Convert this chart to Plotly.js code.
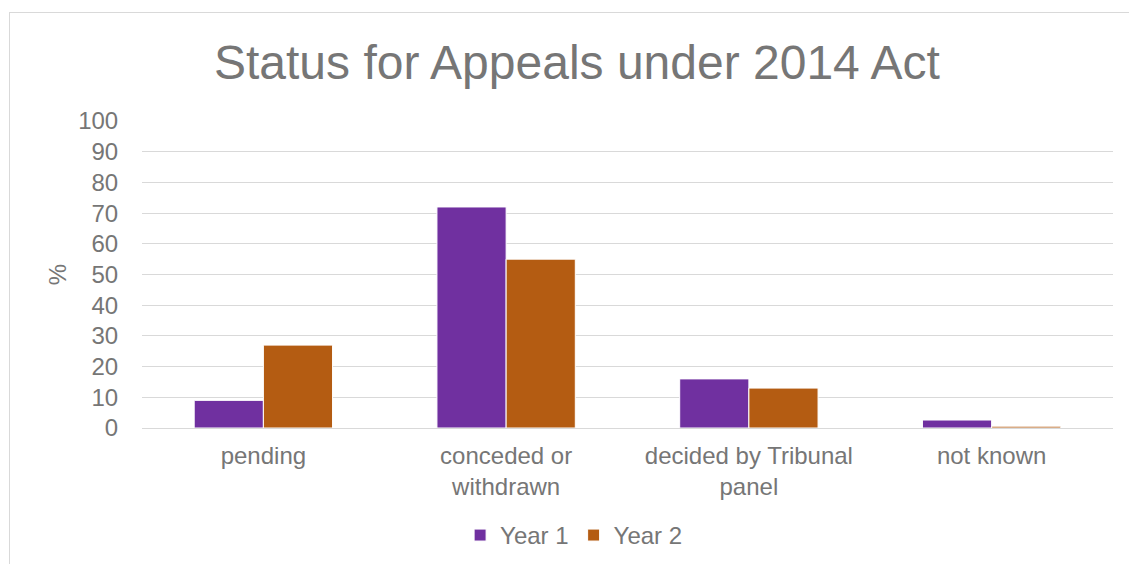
<!DOCTYPE html>
<html>
<head>
<meta charset="utf-8">
<script src="https://cdn.plot.ly/plotly-3.0.1.min.js"></script>
<style>
html,body{margin:0;padding:0;background:#fff;overflow:hidden;}
#chart{position:absolute;left:0;top:0;width:1129px;height:564px;}
#frame{position:absolute;left:9px;top:12px;width:1130px;height:560px;border:1px solid #d9d9d9;pointer-events:none;}
</style>
</head>
<body>
<div id="chart"></div>
<div id="frame"></div>
<script>
const categories = ["pending", "conceded or<br>withdrawn", "decided by Tribunal<br>panel", "not known"];
const year1 = [9, 72, 16, 2.6];
const year2 = [27, 55, 13, 0.6];
const seriesNames = ["Year 1", "Year 2"];
const yTicks = [0, 10, 20, 30, 40, 50, 60, 70, 80, 90, 100];

const font = "Liberation Sans, Arial, sans-serif";
const gray = "#767676";

const traces = [
  {type: "bar", x: categories, y: year1, name: seriesNames[0],
   marker: {color: "#7030A0", line: {color: "#ffffff", width: 1}}},
  {type: "bar", x: categories, y: year2, name: seriesNames[1],
   marker: {color: "#B45C12", line: {color: "#ffffff", width: 1}}}
];

const layout = {
  width: 1129, height: 564,
  margin: {l: 142, r: 16, t: 121, b: 136, autoexpand: false},
  paper_bgcolor: "#fff", plot_bgcolor: "#fff",
  font: {family: font, color: gray, size: 24},
  title: {text: "Status for Appeals under 2014 Act", font: {family: font, size: 48, color: gray},
          x: 0.511, xanchor: "center", y: 0.89, yanchor: "middle"},
  barmode: "group", bargap: 0.43, bargroupgap: 0,
  xaxis: {type: "category", showgrid: false, showline: false, zeroline: false, automargin: false,
          ticks: "outside", ticklen: 6, tickcolor: "rgba(0,0,0,0)",
          tickfont: {family: font, size: 24, color: gray}},
  yaxis: {range: [0, 100], tickvals: yTicks, ticktext: yTicks.map(String), automargin: false,
          showgrid: true, gridcolor: "#d9d9d9", gridwidth: 1,
          zeroline: true, zerolinecolor: "#d9d9d9", zerolinewidth: 1,
          showline: false, ticks: "outside", ticklen: 18, tickcolor: "rgba(0,0,0,0)",
          tickfont: {family: font, size: 24, color: gray},
          title: {text: "%", font: {family: font, size: 24, color: gray}, standoff: 4}},
  showlegend: true,
  legend: {orientation: "h", x: 0.445, xanchor: "center", y: -0.35, yanchor: "middle",
           font: {family: font, size: 24, color: gray}, itemwidth: 30, traceorder: "normal"}
};

Plotly.newPlot("chart", traces, layout, {displayModeBar: false, staticPlot: true});
</script>
</body>
</html>
